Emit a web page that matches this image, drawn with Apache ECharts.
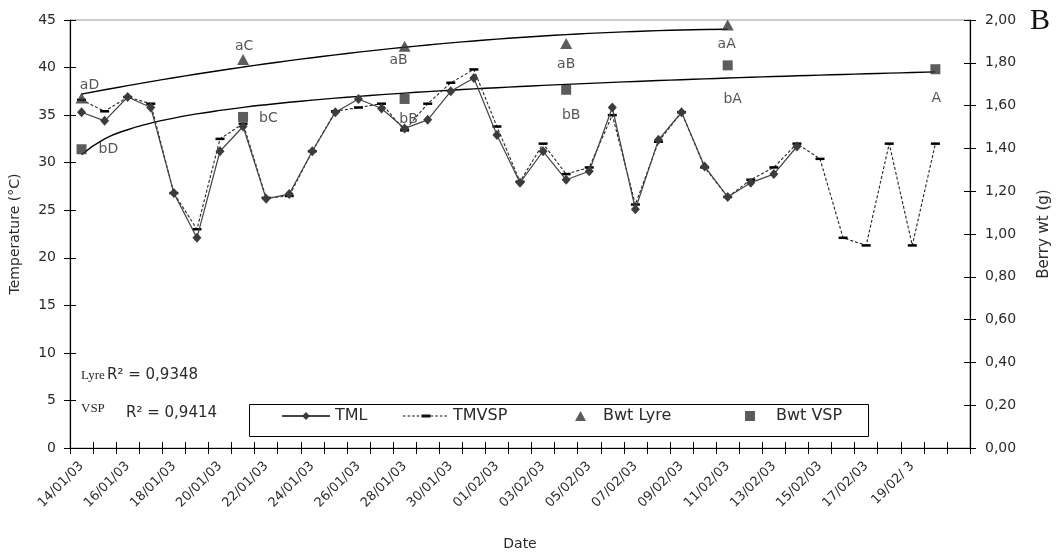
<!DOCTYPE html>
<html>
<head>
<meta charset="utf-8">
<script src="https://cdn.jsdelivr.net/npm/echarts@6/dist/echarts.min.js"></script>
<style>html,body{margin:0;padding:0;background:#fff}#c{width:1060px;height:556px}</style>
</head>
<body>
<div id="c"></div>
<script>
// ---- data ----
const categories = ['14/01/03','15/01/03','16/01/03','17/01/03','18/01/03','19/01/03','20/01/03','21/01/03','22/01/03','23/01/03',
  '24/01/03','25/01/03','26/01/03','27/01/03','28/01/03','29/01/03','30/01/03','31/01/03','01/02/03','02/02/03',
  '03/02/03','04/02/03','05/02/03','06/02/03','07/02/03','08/02/03','09/02/03','10/02/03','11/02/03','12/02/03',
  '13/02/03','14/02/03','15/02/03','16/02/03','17/02/03','18/02/03','19/02/03','20/02/03','21/02/03'];
const tickLabels = ['14/01/03','16/01/03','18/01/03','20/01/03','22/01/03','24/01/03','26/01/03','28/01/03','30/01/03','01/02/03',
  '03/02/03','05/02/03','07/02/03','09/02/03','11/02/03','13/02/03','15/02/03','17/02/03','19/02/ 3'];
const tml = [35.3,34.4,36.9,35.8,26.8,22.1,31.2,33.8,26.2,26.7,31.2,35.3,36.7,35.7,33.6,34.5,37.5,38.9,32.9,27.9,
  31.2,28.2,29.1,35.8,25.1,32.4,35.3,29.6,26.4,27.9,28.8,31.7];
const tmvsp = [36.6,35.4,36.9,36.2,26.8,23.0,32.5,34.1,26.3,26.5,31.2,35.4,35.8,36.2,33.4,36.2,38.4,39.8,33.8,28.0,
  32.0,28.8,29.5,35.0,25.6,32.2,35.3,29.5,26.4,28.2,29.5,32.0,30.4,22.1,21.3,32.0,21.3,32.0];
const lyreDays = [0,7,14,21,28];
const bwtLyre = [1.635,1.816,1.877,1.890,1.977];
const lyreLabels = ['aD','aC','aB','aB','aA'];
const vspDays = [0,7,14,21,28,37];
const bwtVsp = [1.396,1.547,1.631,1.674,1.788,1.770];
const vspLabels = ['bD','bC','bB','bB','bA','A'];
const lyreTag = 'Lyre', vspTag = 'VSP';
const r2Lyre = 'R² = 0,9348', r2Vsp = 'R² = 0,9414';

// label placement (style only)
const lyrePos = [{p:'top',d:0,o:[8,0]},{p:'top',d:1,o:[1,0]},{p:'bottom',d:2,o:[-6,0]},{p:'bottom',d:8,o:[0,0]},{p:'bottom',d:7,o:[-1,0]}];
const vspPos = [{p:'right',d:12,o:[0,0]},{p:'right',d:11,o:[0,1]},{p:'bottom',d:8,o:[4,0]},{p:'bottom',d:14,o:[5,0]},{p:'bottom',d:22,o:[5,0]},{p:'bottom',d:17,o:[1,0]}];

// Excel-style trendlines computed from the plotted data (x = category index + 1)
function logFit(days, vals) {
  const xs = days.map(d => Math.log(d + 1)), n = xs.length;
  const mx = xs.reduce((a,b)=>a+b,0)/n, my = vals.reduce((a,b)=>a+b,0)/n;
  let sxy = 0, sxx = 0;
  for (let i=0;i<n;i++){ sxy += (xs[i]-mx)*(vals[i]-my); sxx += (xs[i]-mx)**2; }
  const a = sxy/sxx, b = my - a*mx, out = [];
  for (let d = days[0]; d <= days[n-1]; d++) out.push([d, a*Math.log(d+1)+b]);
  return out;
}
function polyFit2(days, vals) {
  const S = [0,0,0,0,0], T = [0,0,0];
  days.forEach((d,i) => { const x = d + 1; for (let k=0;k<5;k++) S[k] += x**k; for (let k=0;k<3;k++) T[k] += vals[i]*x**k; });
  const M = [[S[0],S[1],S[2],T[0]],[S[1],S[2],S[3],T[1]],[S[2],S[3],S[4],T[2]]];
  for (let c=0;c<3;c++){ for (let r=c+1;r<3;r++){ const f = M[r][c]/M[c][c]; for (let k=c;k<4;k++) M[r][k]-=f*M[c][k]; } }
  const cf = [0,0,0];
  for (let r=2;r>=0;r--){ let s = M[r][3]; for (let k=r+1;k<3;k++) s -= M[r][k]*cf[k]; cf[r] = s/M[r][r]; }
  const out = [];
  for (let d = days[0]; d <= days[days.length-1]; d++) { const x = d + 1; out.push([d, cf[0]+cf[1]*x+cf[2]*x*x]); }
  return out;
}

const FONT = 'DejaVu Sans, Verdana, sans-serif';
const SERIF = 'Liberation Serif, Times New Roman, serif';
const TXT = '#2a2a2a';

function pts(days, vals, labels, pos) {
  return days.map((d,i) => ({
    value: [d, vals[i]],
    label: { show: true, formatter: labels[i], position: pos[i].p, offset: pos[i].o, distance: pos[i].d,
             fontFamily: FONT, fontSize: 14, color: TXT }
  }));
}

function dashIcon() {
  let p = '';
  for (let x = 0; x < 46; x += 4.6) p += `M${x.toFixed(1)},1 h2.6 v1 h-2.6 z `;
  p += 'M18.5,0 h9 v3 h-9 z';
  return 'path://' + p;
}

const chart = echarts.init(document.getElementById('c'));

chart.setOption({
  animation: false,
  backgroundColor: '#fff',
  grid: { left: 67, right: 90, top: 20, bottom: 102, show: true, borderColor: '#999', borderWidth: 1 },
  xAxis: [
    { type: 'category', data: categories, boundaryGap: true, position: 'bottom',
      axisLine: { lineStyle: { color: '#000', width: 1.2 } },
      axisTick: { show: true, interval: 0, length: 6, lineStyle: { color: '#000' } },
      axisLabel: { interval: 0, rotate: 45, fontFamily: FONT, fontSize: 13, color: TXT, margin: 16,
        formatter: (v, i) => (i % 2 === 0 && i/2 < tickLabels.length) ? tickLabels[i/2] : '' },
      name: 'Date', nameLocation: 'middle', nameGap: 89,
      nameTextStyle: { fontFamily: FONT, fontSize: 14, color: TXT },
      splitLine: { show: false } },
    { type: 'category', data: categories, boundaryGap: true, position: 'bottom',
      axisLine: { show: false },
      axisTick: { show: true, inside: true, interval: 0, length: 6, lineStyle: { color: '#000' } },
      axisLabel: { show: false }, splitLine: { show: false } }
  ],
  yAxis: [
    { type: 'value', min: 0, max: 45, interval: 5, position: 'left',
      axisLine: { show: true, lineStyle: { color: '#000', width: 1.2 } },
      axisTick: { show: true, length: 6, lineStyle: { color: '#000' } },
      axisLabel: { fontFamily: FONT, fontSize: 14, color: TXT, margin: 14 },
      splitLine: { show: false },
      name: 'Temperature (°C)', nameLocation: 'middle', nameRotate: 90, nameGap: 48,
      nameTextStyle: { fontFamily: FONT, fontSize: 14, color: TXT } },
    { type: 'value', min: 0, max: 2, interval: 0.2, position: 'right',
      axisLine: { show: true, lineStyle: { color: '#000', width: 1.2 } },
      axisTick: { show: true, length: 6, lineStyle: { color: '#000' } },
      axisLabel: { fontFamily: FONT, fontSize: 14, color: TXT, margin: 15,
        formatter: v => v.toFixed(2).replace('.', ',') },
      splitLine: { show: false },
      name: 'Berry wt (g)', nameLocation: 'middle', nameRotate: 90, nameGap: 67,
      nameTextStyle: { fontFamily: FONT, fontSize: 15, color: TXT } },
    { type: 'value', min: 0, max: 45, interval: 5, position: 'left',
      axisLine: { show: false }, axisTick: { show: true, inside: true, length: 6, lineStyle: { color: '#000' } },
      axisLabel: { show: false }, splitLine: { show: false } },
    { type: 'value', min: 0, max: 2, interval: 0.2, position: 'right',
      axisLine: { show: false }, axisTick: { show: true, inside: true, length: 6, lineStyle: { color: '#000' } },
      axisLabel: { show: false }, splitLine: { show: false } }
  ],
  legend: [
    { data: ['TML'], left: 276, top: 403, itemWidth: 48, itemHeight: 10, itemGap: 0,
      textStyle: { fontFamily: FONT, fontSize: 16, color: TXT } },
    { data: [{ name: 'TMVSP', icon: dashIcon() }], left: 398, top: 403, itemWidth: 46, itemHeight: 3, itemGap: 0,
      itemStyle: { color: '#111' },
      textStyle: { fontFamily: FONT, fontSize: 16, color: TXT } },
    { data: ['Bwt Lyre'], left: 570, top: 403, itemWidth: 11, itemHeight: 10, itemGap: 0,
      textStyle: { fontFamily: FONT, fontSize: 16, color: TXT, padding: [0,0,0,12] } },
    { data: ['Bwt VSP'], left: 740, top: 403, itemWidth: 10, itemHeight: 10, itemGap: 0,
      textStyle: { fontFamily: FONT, fontSize: 16, color: TXT, padding: [0,0,0,16] } }
  ],
  graphic: [
    { type: 'rect', shape: { x: 249.5, y: 404.5, width: 619, height: 32 }, style: { fill: '#fff', stroke: '#000', lineWidth: 1 }, z: -1 },
    { type: 'text', left: 81, top: 369, style: { text: lyreTag, font: '13px ' + SERIF, fill: TXT } },
    { type: 'text', left: 107, top: 368, style: { text: r2Lyre, font: '15px ' + FONT, fill: TXT } },
    { type: 'text', left: 81, top: 402, style: { text: vspTag, font: '13px ' + SERIF, fill: TXT } },
    { type: 'text', left: 126, top: 406, style: { text: r2Vsp, font: '15px ' + FONT, fill: TXT } },
    { type: 'text', left: 1030, top: 6, style: { text: 'B', font: '30px ' + SERIF, fill: '#111' } }
  ],
  series: [
    { name: 'TMVSP', type: 'line', data: tmvsp, yAxisIndex: 0, symbol: 'rect', symbolSize: [9, 2.5],
      itemStyle: { color: '#000' }, lineStyle: { color: '#222', width: 1.1, type: [3, 2] }, z: 3 },
    { name: 'TML', type: 'line', data: tml, yAxisIndex: 0, symbol: 'diamond', symbolSize: [9, 10],
      itemStyle: { color: '#3c3c3c' }, lineStyle: { color: '#444', width: 1.2 }, z: 4 },
    { name: 'trendLyre', type: 'line', data: polyFit2(lyreDays, bwtLyre), yAxisIndex: 1, symbol: 'none',
      lineStyle: { color: '#000', width: 1.4 }, smooth: true, z: 2 },
    { name: 'trendVsp', type: 'line', data: logFit(vspDays, bwtVsp), yAxisIndex: 1, symbol: 'none',
      lineStyle: { color: '#000', width: 1.4 }, smooth: true, z: 2 },
    { name: 'Bwt Lyre', type: 'scatter', yAxisIndex: 1, symbol: 'triangle', symbolSize: [12, 11],
      itemStyle: { color: '#333' }, data: pts(lyreDays, bwtLyre, lyreLabels, lyrePos), z: 5 },
    { name: 'Bwt VSP', type: 'scatter', yAxisIndex: 1, symbol: 'rect', symbolSize: 10,
      itemStyle: { color: '#333' }, data: pts(vspDays, bwtVsp, vspLabels, vspPos), z: 5 }
  ]
});
</script>
</body>
</html>
